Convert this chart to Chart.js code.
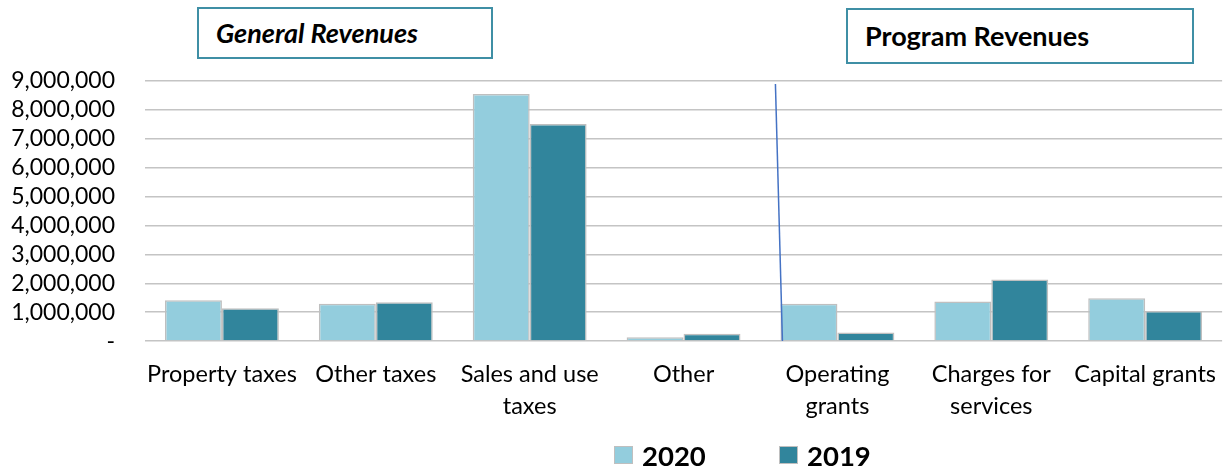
<!DOCTYPE html>
<html>
<head>
<meta charset="utf-8">
<script src="https://cdn.jsdelivr.net/npm/chart.js@4/dist/chart.umd.min.js"></script>
<style>
  html, body { margin: 0; padding: 0; background: #fff; }
  #wrap { position: relative; width: 1225px; height: 471px; font-family: Lato, "Liberation Sans", sans-serif; }
  .tag {
    position: absolute; box-sizing: border-box;
    border: 2px solid #3f8fa5; background: #fff;
    font-weight: bold; font-size: 27px; color: #000; padding-left: 17px; z-index: 2;
  }
  #tagGeneral { left: 197px; top: 7px; width: 296px; height: 52px; line-height: 48px; font-style: italic; }
  #tagProgram { left: 846px; top: 8px; width: 348px; height: 56px; line-height: 52px; }
  #legend { position: absolute; top: 440px; left: 0; height: 30px; }
  .item { position: absolute; top: 0; display: flex; align-items: center; height: 30px;
          font-weight: bold; font-size: 27.5px; color: #000; white-space: nowrap; }
  .swatch { width: 19px; height: 18px; box-sizing: border-box; border: 1.5px solid #bfbfbf; margin-right: 9px; }
</style>
</head>
<body>
<div id="wrap">
  <div class="tag" id="tagGeneral">General Revenues</div>
  <div class="tag" id="tagProgram">Program Revenues</div>
  <canvas id="chart" width="1225" height="471"></canvas>
  <div id="legend"></div>
</div>
<script>
// categories and values
const categories = [
  'Property taxes', 'Other taxes', ['Sales and use', 'taxes'], 'Other',
  ['Operating', 'grants'], ['Charges for', 'services'], 'Capital grants'
];
const values2020 = [1410000, 1290000, 8550000, 130000, 1290000, 1370000, 1480000];
const values2019 = [1140000, 1340000, 7510000, 250000, 300000, 2130000, 1040000];
const yMax = 9000000;
const yStep = 1000000;

const FONT = 'Lato, "Liberation Sans", sans-serif';

// thin blue divider between general and program revenues
const dividerLine = {
  id: 'dividerLine',
  afterDatasetsDraw(chart) {
    const { ctx, chartArea, scales } = chart;
    const x = scales.x.getPixelForValue(4) - 57;
    ctx.save();
    ctx.strokeStyle = '#4472c4';
    ctx.lineWidth = 1.5;
    ctx.beginPath();
    ctx.moveTo(x - 5, chartArea.top + 3);
    ctx.lineTo(x + 2, chartArea.bottom);
    ctx.stroke();
    ctx.restore();
  }
};

const chart = new Chart(document.getElementById('chart'), {
  type: 'bar',
  data: {
    labels: categories,
    datasets: [
      { label: '2020', data: values2020, backgroundColor: '#93cddd', borderColor: '#bfbfbf', borderWidth: 1.5 },
      { label: '2019', data: values2019, backgroundColor: '#31859c', borderColor: '#bfbfbf', borderWidth: 1.5 }
    ]
  },
  options: {
    responsive: false,
    animation: false,
    layout: { padding: { top: 81, left: 10, right: 0, bottom: 40 } },
    datasets: { bar: { categoryPercentage: 0.74, barPercentage: 1 } },
    plugins: {
      tooltip: { enabled: false },
      legend: { display: false }
    },
    scales: {
      x: {
        grid: { display: false },
        border: { display: false },
        ticks: {
          color: '#000', padding: 9, maxRotation: 0, autoSkip: false,
          font: { family: FONT, size: 23.5, lineHeight: 1.36 }
        }
      },
      y: {
        min: 0, max: yMax,
        border: { display: false },
        grid: { color: '#c4c4c4', lineWidth: 1.5, drawTicks: false },
        afterFit(scale) { scale.width = 135; },
        ticks: {
          stepSize: yStep, color: '#000', padding: 30, autoSkip: false,
          font: { family: FONT, size: 23 },
          callback: v => v === 0 ? '-' : v.toLocaleString('en-US')
        }
      }
    }
  },
  plugins: [dividerLine]
});

// legend built from the datasets
const legendLeft = [614, 779];
const legendEl = document.getElementById('legend');
chart.data.datasets.forEach((ds, i) => {
  const item = document.createElement('div');
  item.className = 'item';
  item.style.left = legendLeft[i] + 'px';
  item.innerHTML = `<span class="swatch" style="background:${ds.backgroundColor}"></span>${ds.label}`;
  legendEl.appendChild(item);
});
</script>
</body>
</html>
